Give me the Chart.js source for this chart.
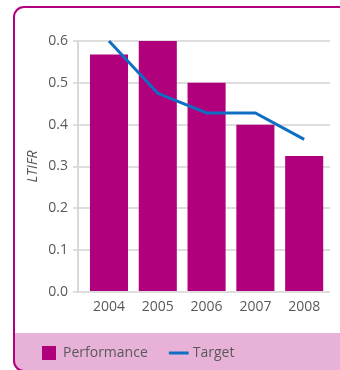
<!DOCTYPE html>
<html>
<head>
<meta charset="utf-8">
<script src="https://cdn.jsdelivr.net/npm/chart.js@4.4.1/dist/chart.umd.min.js"></script>
<style>
  html, body { margin: 0; padding: 0; background: #fff; overflow: hidden; }
  body { width: 340px; height: 370px; position: relative; }
  .card {
    position: absolute;
    left: 13px;
    top: 6px;
    right: -30px;
    bottom: -2px;
    box-sizing: border-box;
    border: 2px solid #b3007f;
    border-radius: 11px;
    background: linear-gradient(to bottom, #fff 0, #fff 325px, #e8b1d7 325px);
  }
  #chart { position: absolute; left: 0; top: 0; }
</style>
</head>
<body>
<div class="card"></div>
<canvas id="chart" width="340" height="370"></canvas>
<script>
const years = ["2004", "2005", "2006", "2007", "2008"];
const performance = [0.568, 0.6, 0.5, 0.4, 0.325];
const target = [0.6, 0.475, 0.428, 0.428, 0.365];
const yTicks = [0.0, 0.1, 0.2, 0.3, 0.4, 0.5, 0.6];

Chart.defaults.font.family = "'Open Sans', sans-serif";
Chart.defaults.font.size = 14;
Chart.defaults.color = "#595959";

const chartConfig = {
  type: "bar",
  data: {
    labels: years,
    datasets: [
      {
        label: "Performance",
        data: performance,
        backgroundColor: "#b0007c",
        borderWidth: 0,
        barPercentage: 0.78,
        categoryPercentage: 1,
        pointStyle: "rect",
        order: 1,
      },
      {
        type: "line",
        label: "Target",
        data: target,
        borderColor: "#0f6ec3",
        backgroundColor: "#0f6ec3",
        borderWidth: 3,
        pointRadius: 0,
        pointStyle: "line",
        clip: false,
        order: 0,
      },
    ],
  },
  options: {
    responsive: false,
    animation: false,
    layout: { padding: { left: 18, right: 10, top: 41, bottom: 0 } },
    plugins: {
      tooltip: { enabled: false },
      legend: {
        position: "bottom",
        align: "start",
        labels: {
          usePointStyle: true,
          padding: 24,
          color: "#595959",
          sort: (a, b) => a.datasetIndex - b.datasetIndex,
        },
      },
    },
    scales: {
      x: {
        type: "linear",
        offset: false,
        min: 2003.365,
        max: 2008.529,
        grid: { display: false, drawTicks: false },
        border: { display: false },
        ticks: {
          stepSize: 1,
          includeBounds: false,
          padding: 7,
          callback: (v) => String(v),
        },
        afterFit: (scale) => { scale.height = 30; },
      },
      y: {
        min: 0,
        max: 0.6,
        afterBuildTicks: (scale) => {
          scale.ticks = yTicks.map((v) => ({ value: v }));
        },
        ticks: {
          padding: 5,
          callback: (v) => v.toFixed(1),
        },
        grid: { color: "#dedede", lineWidth: 2, tickLength: 5 },
        border: { color: "#d8d8d8", width: 2 },
        title: {
          display: true,
          text: "LTIFR",
          font: { style: "italic", size: 14 },
          padding: { top: 7, bottom: 7 },
        },
        afterFit: (scale) => { scale.width = 60; },
      },
    },
  },
};

new Chart(document.getElementById("chart").getContext("2d"), chartConfig);
</script>
</body>
</html>
